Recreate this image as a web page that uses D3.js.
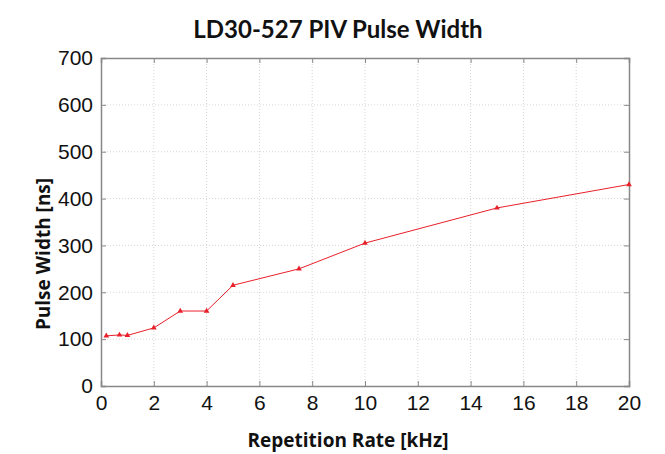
<!DOCTYPE html>
<html>
<head>
<meta charset="utf-8">
<script src="https://cdn.jsdelivr.net/npm/d3@7"></script>
<style>
  body { margin: 0; background: #fff; }
  svg { font-family: Lato, "Open Sans", sans-serif; }
</style>
</head>
<body>
<div id="chart"></div>
<script>
// data
var repRate = [0.2, 0.7, 1, 2, 3, 4, 5, 7.5, 10, 15, 20];
var pulseWidth = [107, 109, 108, 124, 160, 160, 215, 250, 305, 380, 430];
var xTicks = [0, 2, 4, 6, 8, 10, 12, 14, 16, 18, 20];
var yTicks = [0, 100, 200, 300, 400, 500, 600, 700];

var W = 665, H = 454;
var margin = { top: 58, right: 36, bottom: 68, left: 101 };
var width = W - margin.left - margin.right;
var height = H - margin.top - margin.bottom;

var svg = d3.select("#chart").append("svg")
    .attr("width", W)
    .attr("height", H);

var g = svg.append("g")
    .attr("transform", "translate(" + margin.left + "," + margin.top + ")");

var x = d3.scaleLinear().domain([0, 20]).range([0, width]);
var y = d3.scaleLinear().domain([0, 700]).range([height, 0]);

// dotted grid
g.append("g").selectAll("line").data(xTicks.slice(1, -1)).enter().append("line")
    .attr("x1", d => x(d)).attr("x2", d => x(d))
    .attr("y1", 0).attr("y2", height)
    .attr("stroke", "#d6d6d6").attr("stroke-dasharray", "1,2");
g.append("g").selectAll("line").data(yTicks.slice(1, -1)).enter().append("line")
    .attr("x1", 0).attr("x2", width)
    .attr("y1", d => y(d)).attr("y2", d => y(d))
    .attr("stroke", "#d6d6d6").attr("stroke-dasharray", "1,2");

// axes, ticks pointing inwards
g.append("g")
    .attr("transform", "translate(0," + height + ")")
    .call(d3.axisBottom(x).tickValues(xTicks).tickSize(-5).tickPadding(9));
g.append("g")
    .call(d3.axisLeft(y).tickValues(yTicks).tickSize(-5).tickPadding(8));
g.append("g")
    .call(d3.axisTop(x).tickValues(xTicks).tickSize(-5).tickFormat(""));
g.append("g")
    .attr("transform", "translate(" + width + ",0)")
    .call(d3.axisRight(y).tickValues(yTicks).tickSize(-5).tickFormat(""));

g.selectAll(".domain").attr("stroke", "#888").attr("stroke-width", 1.5);
g.selectAll(".tick line").attr("stroke", "#888");
g.selectAll(".tick text")
    .style("font-size", "21px")
    .attr("fill", "#111");

// line + markers
var line = d3.line()
    .x((d, i) => x(repRate[i]))
    .y(d => y(d));

g.append("path")
    .datum(pulseWidth)
    .attr("fill", "none")
    .attr("stroke", "#e8202a")
    .attr("stroke-width", 1)
    .attr("d", line);

g.selectAll(".marker").data(pulseWidth).enter().append("path")
    .attr("class", "marker")
    .attr("transform", (d, i) => "translate(" + x(repRate[i]) + "," + y(d) + ")")
    .attr("d", d3.symbol().type(d3.symbolTriangle).size(14))
    .attr("fill", "#e8202a");

// title & labels
svg.append("text")
    .attr("x", 338).attr("y", 38)
    .attr("text-anchor", "middle")
    .style("font-size", "24px").style("font-weight", "bold")
    .attr("fill", "#111")
    .text("LD30-527 PIV Pulse Width");

svg.append("text")
    .attr("x", 348).attr("y", 447)
    .attr("text-anchor", "middle")
    .style("font-family", "'Open Sans', sans-serif")
    .style("font-size", "19px").style("font-weight", "bold")
    .attr("fill", "#111")
    .text("Repetition Rate [kHz]");

svg.append("text")
    .attr("transform", "translate(50,254) rotate(-90)")
    .attr("text-anchor", "middle")
    .style("font-family", "'Open Sans', sans-serif")
    .style("font-size", "19px").style("font-weight", "bold")
    .attr("fill", "#111")
    .text("Pulse Width [ns]");
</script>
</body>
</html>
